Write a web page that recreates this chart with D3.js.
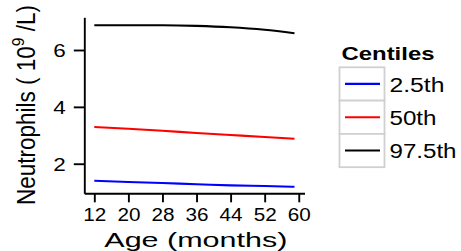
<!DOCTYPE html>
<html><head><meta charset="utf-8">
<script src="https://cdn.jsdelivr.net/npm/d3@7"></script>
<style>body{margin:0;background:#fff}svg{display:block;font-family:"Liberation Sans",Arial,sans-serif}</style>
</head><body>
<svg id="c" width="461" height="251"></svg>
<script>
const ages = [12, 20, 28, 36, 44, 52, 59];
const p025 = [1.40, 1.36, 1.32, 1.28, 1.24, 1.215, 1.19];
const p50 = [3.29, 3.23, 3.16, 3.08, 3.01, 2.94, 2.88];
const p975 = [6.87, 6.87, 6.87, 6.85, 6.80, 6.71, 6.59];
const seriesNames = ["2.5th", "50th", "97.5th"];
const seriesColors = ["#0000ff", "#ff0000", "#000000"];
const xTicks = [12, 20, 28, 36, 44, 52, 60];
const yTicks = [2, 4, 6];

const svg = d3.select("#c");
const x = d3.scaleLinear().domain([9.65, 61.35]).range([84.3, 304.5]);
const y = d3.scaleLinear().domain([0.96, 7.15]).range([193.3, 17.3]);

// axes
const gx = svg.append("g").attr("transform", "translate(0,193.3)")
  .call(d3.axisBottom(x).tickValues(xTicks).tickFormat(d3.format("d")).tickSizeInner(9).tickSizeOuter(0).tickPadding(6.3));
const gy = svg.append("g").attr("transform", "translate(84.3,0)")
  .call(d3.axisLeft(y).tickValues(yTicks).tickFormat(d3.format("d")).tickSizeInner(10.5).tickSizeOuter(0).tickPadding(8));
[gx, gy].forEach(g => {
  g.select(".domain").attr("stroke", "#000").attr("stroke-width", 1.9);
  g.selectAll(".tick line").attr("stroke", "#000").attr("stroke-width", 1.9);
  g.selectAll(".tick text").attr("fill", "#000").attr("font-size", 18)
    .attr("font-family", "Liberation Sans, Arial, sans-serif").attr("lengthAdjust", "spacingAndGlyphs");
});
gx.selectAll(".tick text").attr("textLength", 23);
gy.selectAll(".tick text").attr("textLength", 12.5).attr("dy", "0.36em");

// lines
const series = [p025, p50, p975];
const line = d3.line().x((d, i) => x(ages[i])).y(d => y(d)).curve(d3.curveMonotoneX);
series.forEach((s, k) => {
  svg.append("path").datum(s).attr("d", line).attr("fill", "none")
    .attr("stroke", seriesColors[k]).attr("stroke-width", 2.1);
});

// axis titles
svg.append("text").attr("x", 195.8).attr("y", 247.3).attr("text-anchor", "middle")
  .attr("font-size", 21).attr("textLength", 183).attr("lengthAdjust", "spacingAndGlyphs")
  .text("Age (months)");
const yl = svg.append("text").attr("transform", "translate(34.5,105) scale(1.12,1) rotate(-90)")
  .attr("text-anchor", "middle").attr("font-size", 22.5);
yl.append("tspan").text("Neutrophils ( 10");
yl.append("tspan").attr("font-size", 15.5).attr("dy", -9.5).text("9");
yl.append("tspan").attr("dy", 9.5).text(" /L)");

// legend
svg.append("text").attr("x", 341.5).attr("y", 60).attr("font-size", 17.5).attr("font-weight", "bold")
  .attr("textLength", 93).attr("lengthAdjust", "spacingAndGlyphs").text("Centiles");
const keyW = [55, 47, 67];
seriesNames.forEach((n, k) => {
  const top = 67.3 + k * 33.3;
  svg.append("rect").attr("x", 339.5).attr("y", top).attr("width", 45).attr("height", 33.3)
    .attr("fill", "#fff").attr("stroke", "#d0d0d0").attr("stroke-width", 1.8);
  svg.append("line").attr("x1", 345).attr("x2", 380).attr("y1", top + 16.6).attr("y2", top + 16.6)
    .attr("stroke", seriesColors[k]).attr("stroke-width", 2.1);
  svg.append("text").attr("x", 389.5).attr("y", top + 24.3).attr("font-size", 19.5)
    .attr("textLength", keyW[k]).attr("lengthAdjust", "spacingAndGlyphs").text(n);
});
</script>
</body></html>
